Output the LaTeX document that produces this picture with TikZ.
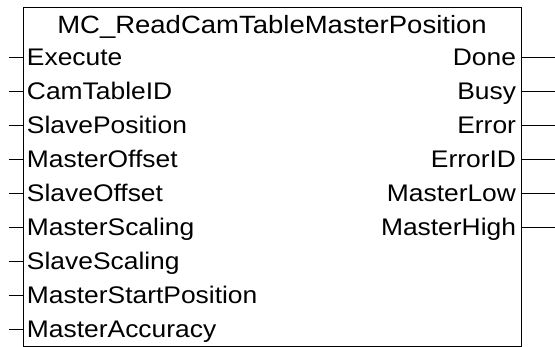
\documentclass[tikz,border=0pt]{standalone}
\usepackage{fontspec}
\setmainfont[FakeStretch=1.1]{Liberation Sans}
\usepackage{tikz}
\usetikzlibrary{positioning}

\begin{document}
\begin{tikzpicture}[x=1pt, y=-1pt, line width=1pt,
  fb/.style={draw,rectangle,anchor=north west,minimum width=498pt,minimum height=339pt,inner sep=0pt},
  pin/.style={font=\fontsize{24}{28}\selectfont,inner xsep=4pt,inner ysep=0pt,text height=17pt,text depth=0pt},
  inpin/.style={pin,anchor=west},
  outpin/.style={pin,anchor=east}]
  \useasboundingbox (0,0) rectangle (555,347);
  % Block
  \node[fb] (fb) at (22.5,7) {};
  \node[font=\fontsize{25}{28}\selectfont,text height=17pt,text depth=0pt,inner sep=0pt,
    below=9.5pt of fb.north] (title) {MC\_ReadCamTableMasterPosition};
  % Left: inputs
  \node[inpin] (execute)   at (22.5,57.5)  {Execute};
  \node[inpin] (camtable)  at (22.5,91.5)  {CamTableID};
  \node[inpin] (slavepos)  at (22.5,125.5) {SlavePosition};
  \node[inpin] (moffset)   at (22.5,159.5) {MasterOffset};
  \node[inpin] (soffset)   at (22.5,193.5) {SlaveOffset};
  \node[inpin] (mscaling)  at (22.5,227.5) {MasterScaling};
  \node[inpin] (sscaling)  at (22.5,261.5) {SlaveScaling};
  \node[inpin] (mstartpos) at (22.5,295.5) {MasterStartPosition};
  \node[inpin] (maccuracy) at (22.5,329.5) {MasterAccuracy};
  \coordinate (execute-in)   at (8.5,57.5);
  \coordinate (camtable-in)  at (8.5,91.5);
  \coordinate (slavepos-in)  at (8.5,125.5);
  \coordinate (moffset-in)   at (8.5,159.5);
  \coordinate (soffset-in)   at (8.5,193.5);
  \coordinate (mscaling-in)  at (8.5,227.5);
  \coordinate (sscaling-in)  at (8.5,261.5);
  \coordinate (mstartpos-in) at (8.5,295.5);
  \coordinate (maccuracy-in) at (8.5,329.5);
  \draw (execute-in) -- (execute.west);
  \draw (camtable-in) -- (camtable.west);
  \draw (slavepos-in) -- (slavepos.west);
  \draw (moffset-in) -- (moffset.west);
  \draw (soffset-in) -- (soffset.west);
  \draw (mscaling-in) -- (mscaling.west);
  \draw (sscaling-in) -- (sscaling.west);
  \draw (mstartpos-in) -- (mstartpos.west);
  \draw (maccuracy-in) -- (maccuracy.west);
  % Right: outputs
  \node[outpin] (done)    at (520.5,57.5)  {Done};
  \node[outpin] (busy)    at (520.5,91.5)  {Busy};
  \node[outpin] (error)   at (520.5,125.5) {Error};
  \node[outpin] (errorid) at (520.5,159.5) {ErrorID};
  \node[outpin] (mlow)    at (520.5,193.5) {MasterLow};
  \node[outpin] (mhigh)   at (520.5,227.5) {MasterHigh};
  \coordinate (done-out)    at (555,57.5);
  \coordinate (busy-out)    at (555,91.5);
  \coordinate (error-out)   at (555,125.5);
  \coordinate (errorid-out) at (555,159.5);
  \coordinate (mlow-out)    at (555,193.5);
  \coordinate (mhigh-out)   at (555,227.5);
  \draw (done.east) -- (done-out);
  \draw (busy.east) -- (busy-out);
  \draw (error.east) -- (error-out);
  \draw (errorid.east) -- (errorid-out);
  \draw (mlow.east) -- (mlow-out);
  \draw (mhigh.east) -- (mhigh-out);
\end{tikzpicture}
\end{document}
